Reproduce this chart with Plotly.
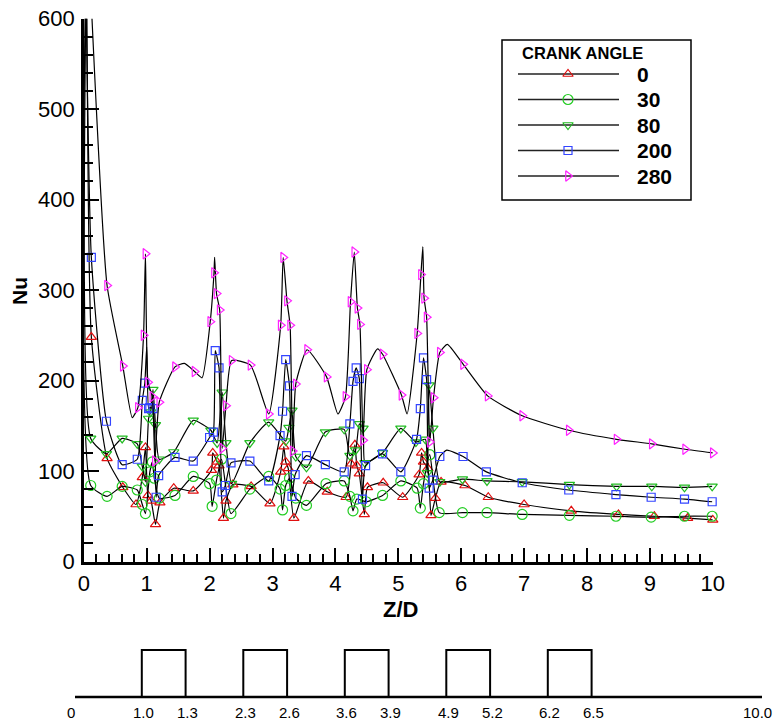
import plotly.graph_objects as go

W, H = 775, 721

# ---- Nusselt number along the channel, one series per crank angle ----
z_ca0 = [0.05, 0.12, 0.37, 0.62, 0.83, 0.93, 0.98, 1.02, 1.07, 1.14, 1.21, 1.43, 1.74,
         2.03, 2.05, 2.12, 2.15, 2.22, 2.26, 2.37, 2.66, 2.96, 3.13, 3.18, 3.21, 3.25,
         3.34, 3.57, 3.87, 4.17, 4.25, 4.31, 4.34, 4.38, 4.46, 4.51, 4.76, 5.07, 5.33,
         5.37, 5.40, 5.47, 5.52, 5.59, 5.68, 6.06, 6.43, 7.0, 7.75, 8.5, 9.07, 9.6, 10.0]
nu_ca0 = [600, 248, 114, 82, 63, 93, 126, 73, 67, 41, 65, 81, 78,
          101, 120, 110, 106, 48, 67, 85, 83, 64, 99, 127, 110, 103,
          48, 89, 77, 71, 108, 129, 106, 97, 52, 82, 87, 71, 96,
          120, 110, 103, 51, 70, 88, 84, 71, 63, 56, 52, 50, 48, 46]
bare_ca0 = [0]

z_ca30 = [0.02, 0.11, 0.37, 0.61, 0.85, 0.93, 0.98, 1.05, 1.09, 1.12, 1.2, 1.45, 1.74,
          2.0, 2.04, 2.11, 2.19, 2.34, 2.64, 2.94, 3.12, 3.16, 3.21, 3.27, 3.37, 3.54,
          3.85, 4.14, 4.23, 4.28, 4.34, 4.49, 4.75, 5.04, 5.3, 5.35, 5.4, 5.5, 5.65,
          6.02, 6.41, 6.97, 7.72, 8.46, 9.02, 9.55, 9.99]
nu_ca30 = [600, 84, 72, 83, 79, 63, 53, 99, 110, 92, 70, 73, 94,
           86, 61, 90, 113, 53, 80, 94, 80, 57, 84, 92, 70, 62,
           86, 89, 72, 56, 69, 66, 73, 89, 81, 59, 86, 118, 54,
           54, 54, 52, 51, 50, 49, 50, 50]
bare_ca30 = [0]

z_ca80 = [0.03, 0.11, 0.36, 0.61, 0.85, 0.93, 0.98, 1.03, 1.06, 1.1, 1.14, 1.2, 1.43,
          1.74, 2.02, 2.12, 2.2, 2.26, 2.35, 2.64, 2.94, 3.21, 3.26, 3.31, 3.37, 3.54,
          3.84, 4.14, 4.23, 4.32, 4.38, 4.44, 4.47, 4.75, 5.04, 5.28, 5.43, 5.46, 5.49,
          5.55, 5.66, 6.02, 6.41, 6.97, 7.72, 8.47, 9.03, 9.55, 9.99]
nu_ca80 = [600, 136, 119, 136, 130, 105, 88, 158, 165, 190, 151, 113, 121,
           156, 145, 131, 187, 131, 86, 131, 154, 133, 148, 167, 116, 104,
           143, 146, 117, 123, 152, 147, 109, 120, 147, 132, 135, 98, 195,
           147, 88, 91, 89, 88, 85, 83, 83, 82, 83]
bare_ca80 = [0]

z_ca200 = [0.04, 0.12, 0.36, 0.61, 0.85, 0.93, 0.97, 1.0, 1.03, 1.05, 1.1, 1.15, 1.19,
           1.45, 1.74, 2.0, 2.06, 2.09, 2.15, 2.2, 2.25, 2.34, 2.64, 2.94, 3.12, 3.16,
           3.21, 3.27, 3.31, 3.36, 3.54, 3.84, 4.14, 4.23, 4.28, 4.33, 4.38, 4.43, 4.48,
           4.75, 5.04, 5.29, 5.35, 5.4, 5.45, 5.49, 5.55, 5.66, 5.77, 6.03, 6.4, 6.97,
           7.71, 8.46, 9.02, 9.55, 9.99]
nu_ca200 = [600, 336, 155, 107, 113, 178, 197, 237, 169, 170, 169, 71, 95,
            115, 111, 137, 143, 233, 214, 77, 84, 109, 111, 89, 139, 166,
            223, 194, 72, 96, 117, 107, 99, 152, 199, 214, 202, 69, 106,
            119, 99, 135, 169, 225, 201, 81, 90, 116, 123, 116, 99, 87,
            79, 74, 71, 69, 66]
bare_ca200 = [0, 7, 48]

z_ca280 = [0.13, 0.37, 0.62, 0.77, 0.86, 0.95, 0.98, 1.02, 1.09, 1.13, 1.2, 1.45, 1.6,
           1.76, 1.88, 2.01, 2.07, 2.08, 2.11, 2.16, 2.2, 2.26, 2.35, 2.65, 2.94, 3.13,
           3.17, 3.23, 3.28, 3.32, 3.37, 3.55, 3.86, 4.04, 4.16, 4.24, 4.3, 4.35, 4.39,
           4.44, 4.5, 4.67, 4.75, 5.05, 5.14, 5.3, 5.36, 5.39, 5.41, 5.45, 5.5, 5.56,
           5.66, 5.78, 6.03, 6.42, 6.97, 7.71, 8.47, 9.03, 9.56, 10.0]
nu_ca280 = [600, 305, 216, 159, 170, 250, 340, 198, 182, 111, 176, 215, 219,
            210, 203, 265, 319, 336, 296, 278, 125, 172, 222, 217, 163, 261,
            336, 288, 261, 122, 196, 234, 204, 163, 182, 287, 342, 280, 262,
            134, 212, 235, 229, 184, 163, 252, 317, 348, 291, 270, 132, 181,
            231, 240, 218, 183, 161, 145, 135, 130, 124, 120]
bare_ca280 = [0, 3, 12, 14, 17, 33, 41, 44, 47, 53]

angles = ["0", "30", "80", "200", "280"]
series = [(z_ca0, nu_ca0, bare_ca0), (z_ca30, nu_ca30, bare_ca30),
          (z_ca80, nu_ca80, bare_ca80), (z_ca200, nu_ca200, bare_ca200),
          (z_ca280, nu_ca280, bare_ca280)]

# rib layout shown in the channel sketch
rib_starts = [1.0, 2.3, 3.6, 4.9, 6.2]
rib_width = 0.3
channel_end = 10.0

# ---- styling ----
symbols = ["triangle-up-open", "circle-open", "triangle-down-open",
           "square-open", "triangle-right-open"]
colors = ["#e01010", "#22cc22", "#22bb22", "#3344ff", "#ff22ff"]
sizes = [9, 10, 9, 8, 9]
FONT = "Liberation Sans, Arial, Helvetica, sans-serif"
NARROW = "Liberation Sans Narrow, Liberation Sans, Arial, sans-serif"

# plot frame in pixels
PX_L, PX_R, PX_B, PX_T = 83.8, 712.8, 561.5, 18.5

fig = go.Figure()

for (z, nu, bare), sym, col, sz in zip(series, symbols, colors, sizes):
    fig.add_trace(go.Scatter(
        x=z, y=nu, mode="lines",
        line=dict(color="black", width=1.2, shape="spline", smoothing=0.5),
        showlegend=False, hoverinfo="skip", xaxis="x", yaxis="y"))
    keep = [i for i in range(len(z)) if i not in bare]
    fig.add_trace(go.Scatter(
        x=[z[i] for i in keep], y=[nu[i] for i in keep], mode="markers",
        marker=dict(symbol=sym, size=sz, color=col, line=dict(width=1.2, color=col)),
        cliponaxis=False, showlegend=False, xaxis="x", yaxis="y"))

shapes = []
annotations = []

# ---- legend box (pixel space on overlay axes) ----
LB_L, LB_T, LB_R, LB_B = 502, 40, 691, 200
shapes.append(dict(type="rect", xref="x2", yref="y2", x0=LB_L, x1=LB_R, y0=LB_T, y1=LB_B,
                   line=dict(color="black", width=1.5), fillcolor="white", layer="below"))
annotations.append(dict(xref="x2", yref="y2", x=520, y=53, text="<b>CRANK ANGLE</b>",
                        showarrow=False, xanchor="left", yanchor="middle",
                        font=dict(family=FONT, size=16.5, color="black")))
row_y0, row_dy = 74, 25.5
for k, (lab, sym, col, sz) in enumerate(zip(angles, symbols, colors, sizes)):
    yy = row_y0 + k * row_dy
    shapes.append(dict(type="line", xref="x2", yref="y2", x0=518, x1=619, y0=yy, y1=yy,
                       line=dict(color="#222222", width=1.5), layer="below"))
    fig.add_trace(go.Scatter(
        x=[568], y=[yy], mode="markers", xaxis="x2", yaxis="y2",
        marker=dict(symbol=sym, size=sz, color=col, line=dict(width=1.2, color=col)),
        showlegend=False, hoverinfo="skip"))
    annotations.append(dict(xref="x2", yref="y2", x=635, y=yy, text=f"<b>{lab}</b>",
                            showarrow=False, xanchor="left", yanchor="middle",
                            font=dict(family=FONT, size=21, color="black")))

# ---- axis titles ----
annotations.append(dict(xref="x2", yref="y2", x=19, y=291, text="<b>Nu</b>", textangle=-90,
                        showarrow=False, font=dict(family=FONT, size=21, color="black")))
annotations.append(dict(xref="x2", yref="y2", x=400, y=609, text="<b>Z/D</b>",
                        showarrow=False, font=dict(family=FONT, size=22, color="black")))

# ---- channel sketch with ribs ----
SK_BASE, SK_TOP = 697, 650
SK_X0, SK_X1 = 75, 762
RIB_PX0, RIB_PITCH, RIB_PX_W = 141.8, 101.5, 43.8
shapes.append(dict(type="line", xref="x2", yref="y2", x0=SK_X0, x1=SK_X1,
                   y0=SK_BASE, y1=SK_BASE, line=dict(color="black", width=2.5)))
annotations.append(dict(xref="x2", yref="y2", x=71, y=712, text="0", showarrow=False,
                        font=dict(family=NARROW, size=15, color="black")))
annotations.append(dict(xref="x2", yref="y2", x=757, y=712, text=f"{channel_end:.1f}",
                        showarrow=False, font=dict(family=NARROW, size=15, color="black")))
for k, r0 in enumerate(rib_starts):
    a = RIB_PX0 + k * RIB_PITCH
    b = a + RIB_PX_W
    path = f"M {a},{SK_BASE} L {a},{SK_TOP} L {b},{SK_TOP} L {b},{SK_BASE}"
    shapes.append(dict(type="path", xref="x2", yref="y2", path=path,
                       line=dict(color="black", width=2)))
    for px, val in ((a + 2, r0), (b + 2, r0 + rib_width)):
        annotations.append(dict(xref="x2", yref="y2", x=px, y=712, text=f"{val:.1f}",
                                showarrow=False,
                                font=dict(family=NARROW, size=15, color="black")))

tick_font = dict(family=FONT, size=22, color="black")
fig.update_layout(
    template="none",
    width=W, height=H,
    margin=dict(l=0, r=0, t=0, b=0, pad=0, autoexpand=False),
    paper_bgcolor="white", plot_bgcolor="rgba(0,0,0,0)",
    showlegend=False,
    xaxis=dict(domain=[PX_L / W, PX_R / W], range=[0, 10], dtick=1, tick0=0,
               ticks="inside", ticklen=14, tickwidth=2, tickcolor="black",
               minor=dict(dtick=0.2, ticks="inside", ticklen=8, tickwidth=1.5,
                          tickcolor="black"),
               showline=True, linewidth=2.5, linecolor="black", showgrid=False,
               zeroline=False, tickfont=tick_font, anchor="y", automargin=False,
               ticklabelstandoff=0, fixedrange=True),
    yaxis=dict(domain=[1 - PX_B / H, 1 - PX_T / H], range=[0, 600], dtick=100, tick0=0,
               ticks="inside", ticklen=15, tickwidth=2, tickcolor="black",
               minor=dict(dtick=20, ticks="inside", ticklen=9, tickwidth=1.5,
                          tickcolor="black"),
               showline=True, linewidth=2.5, linecolor="black", showgrid=False,
               zeroline=False, tickfont=tick_font, anchor="x", automargin=False,
               ticklabelstandoff=2, fixedrange=True),
    xaxis2=dict(domain=[0, 1], range=[0, W], visible=False, anchor="y2",
                automargin=False, fixedrange=True),
    yaxis2=dict(domain=[0, 1], range=[H, 0], visible=False, anchor="x2",
                automargin=False, fixedrange=True),
    shapes=shapes,
    annotations=annotations,
)

fig.write_html("out.html")
